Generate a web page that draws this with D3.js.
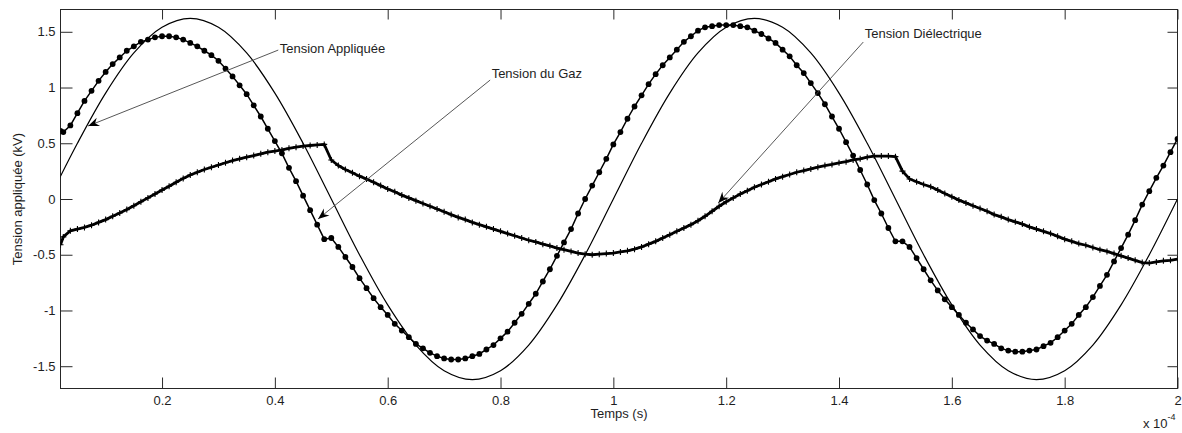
<!DOCTYPE html>
<html>
<head>
<meta charset="utf-8">
<script src="https://cdn.jsdelivr.net/npm/d3@7"></script>
<style>
body { margin: 0; background: #fff; }
svg { display: block; font-family: "Liberation Sans", Arial, sans-serif; }
</style>
</head>
<body>
<svg id="chart" width="1182" height="433"></svg>
<script>
// time in units of 1e-4 s, voltages in kV
const timeStart = 0.02;
const timeStep = 0.0125;
const appliedStep = 0.05;

// thin line, sampled every 0.05 from t = 0
const appliedVoltage = [
    0, 0.50, 0.95, 1.31, 1.54, 1.62, 1.54, 1.31, 0.95, 0.50,
    0, -0.50, -0.95, -1.31, -1.54, -1.62, -1.54, -1.31, -0.95, -0.50,
    0, 0.50, 0.95, 1.31, 1.54, 1.62, 1.54, 1.31, 0.95, 0.50,
    0, -0.50, -0.95, -1.31, -1.54, -1.62, -1.54, -1.31, -0.95, -0.50,
    0
];

// one row per 0.1 of time (8 samples each)
const gasVoltage = [
    0.61, 0.60, 0.66, 0.77, 0.88, 0.97, 1.06, 1.14,
    1.21, 1.27, 1.33, 1.37, 1.41, 1.43, 1.45, 1.46,
    1.46, 1.45, 1.43, 1.40, 1.37, 1.33, 1.29, 1.24,
    1.17, 1.10, 1.02, 0.94, 0.84, 0.74, 0.63, 0.52,
    0.41, 0.28, 0.16, 0.03, -0.10, -0.23, -0.36, -0.35,
    -0.43, -0.52, -0.61, -0.71, -0.80, -0.89, -0.97, -1.04,
    -1.12, -1.18, -1.24, -1.30, -1.34, -1.38, -1.41, -1.43,
    -1.44, -1.44, -1.43, -1.41, -1.39, -1.35, -1.31, -1.25,
    -1.19, -1.11, -1.03, -0.94, -0.85, -0.74, -0.63, -0.51,
    -0.39, -0.27, -0.13, 0.00, 0.12, 0.24, 0.36, 0.49,
    0.60, 0.72, 0.83, 0.93, 1.03, 1.12, 1.20, 1.27,
    1.34, 1.41, 1.46, 1.51, 1.54, 1.55, 1.56, 1.56,
    1.56, 1.55, 1.54, 1.51, 1.48, 1.44, 1.40, 1.34,
    1.28, 1.20, 1.13, 1.04, 0.95, 0.85, 0.74, 0.63,
    0.51, 0.39, 0.26, 0.13, -0.01, -0.13, -0.26, -0.38,
    -0.38, -0.43, -0.53, -0.63, -0.73, -0.82, -0.90, -0.97,
    -1.04, -1.11, -1.17, -1.23, -1.27, -1.30, -1.34, -1.36,
    -1.37, -1.37, -1.36, -1.35, -1.32, -1.29, -1.24, -1.18,
    -1.12, -1.04, -0.97, -0.88, -0.78, -0.68, -0.56, -0.44,
    -0.32, -0.19, -0.05, 0.07, 0.19, 0.30, 0.42, 0.54
];

const dielectricVoltage = [
    -0.41, -0.34, -0.285, -0.27, -0.255, -0.235, -0.21, -0.185,
    -0.155, -0.125, -0.095, -0.06, -0.025, 0.01, 0.045, 0.08,
    0.115, 0.15, 0.185, 0.215, 0.24, 0.265, 0.285, 0.305,
    0.325, 0.345, 0.36, 0.375, 0.39, 0.405, 0.42, 0.43,
    0.44, 0.455, 0.465, 0.475, 0.48, 0.485, 0.49, 0.35,
    0.30, 0.265, 0.235, 0.205, 0.18, 0.15, 0.12, 0.09,
    0.065, 0.035, 0.01, -0.015, -0.04, -0.065, -0.09, -0.115,
    -0.14, -0.165, -0.185, -0.21, -0.23, -0.25, -0.27, -0.29,
    -0.31, -0.33, -0.35, -0.37, -0.385, -0.405, -0.42, -0.44,
    -0.455, -0.47, -0.485, -0.495, -0.50, -0.495, -0.49, -0.485,
    -0.475, -0.465, -0.45, -0.43, -0.405, -0.38, -0.35, -0.32,
    -0.29, -0.26, -0.23, -0.195, -0.155, -0.11, -0.065, -0.025,
    0.01, 0.045, 0.075, 0.105, 0.13, 0.155, 0.18, 0.2,
    0.22, 0.24, 0.255, 0.27, 0.285, 0.30, 0.31, 0.325,
    0.335, 0.35, 0.36, 0.375, 0.385, 0.385, 0.385, 0.38,
    0.25, 0.18, 0.155, 0.13, 0.11, 0.08, 0.05, 0.02,
    -0.01, -0.035, -0.06, -0.085, -0.11, -0.14, -0.16, -0.185,
    -0.205, -0.225, -0.25, -0.27, -0.29, -0.31, -0.335, -0.36,
    -0.38, -0.40, -0.415, -0.435, -0.455, -0.47, -0.49, -0.51,
    -0.53, -0.55, -0.57, -0.575, -0.565, -0.555, -0.55, -0.54
];

const xTicks = [0.2, 0.4, 0.6, 0.8, 1, 1.2, 1.4, 1.6, 1.8, 2];
const xTickLabels = ["0.2", "0.4", "0.6", "0.8", "1", "1.2", "1.4", "1.6", "1.8", "2"];
const yTicks = [-1.5, -1, -0.5, 0, 0.5, 1, 1.5];
const yTickLabels = ["-1.5", "-1", "-0.5", "0", "0.5", "1", "1.5"];

// arrow annotations, in data units (tail = end near the text)
const annotationLabels = ["Tension Appliquée", "Tension du Gaz", "Tension Diélectrique"];
const annotationTail = [[0.406, 1.336], [0.7816, 1.067], [1.443, 1.408]];
const annotationTip = [[0.069, 0.655], [0.4766, -0.179], [1.186, -0.036]];

// sample times
let sampleTime = gasVoltage.map((v, i) => i == 0 ? timeStart : (i + 1) * timeStep);
let appliedTime = appliedVoltage.map((v, i) => i * appliedStep);

let svg = d3.select("#chart");
let plotLeft = 60.5, plotRight = 1177.5, plotTop = 9.5, plotBottom = 388.5;
let textColor = "#1e1e1e";

let xScale = d3.scaleLinear().domain([0.02, 2]).range([plotLeft, plotRight]);
let yScale = d3.scaleLinear().domain([-1.7, 1.7]).range([plotBottom, plotTop]);

let defs = svg.append("defs");
defs.append("clipPath").attr("id", "plotClip")
    .append("rect")
    .attr("x", plotLeft).attr("y", plotTop)
    .attr("width", plotRight - plotLeft).attr("height", plotBottom - plotTop);

defs.append("marker")
    .attr("id", "arrowHead")
    .attr("viewBox", "-12 -6 13 12")
    .attr("refX", 0).attr("refY", 0)
    .attr("markerWidth", 13).attr("markerHeight", 12)
    .attr("markerUnits", "userSpaceOnUse")
    .attr("orient", "auto")
    .append("path")
    .attr("d", "M0,0 L-11,-4.5 L-7.5,0 L-11,4.5 Z")
    .attr("fill", "#000");

// axes: ticks inward on all four sides
function styleAxis(g) {
    g.select(".domain").remove();
    g.attr("font-size", 13).attr("font-family", null).attr("color", "#2a2a2a");
    g.selectAll("text").attr("fill", textColor);
}

svg.append("g")
    .attr("transform", "translate(0," + plotBottom + ")")
    .call(d3.axisBottom(xScale).tickValues(xTicks)
        .tickFormat((d, i) => xTickLabels[i])
        .tickSizeInner(-11).tickSizeOuter(0).tickPadding(7))
    .call(styleAxis);

svg.append("g")
    .attr("transform", "translate(0," + plotTop + ")")
    .call(d3.axisTop(xScale).tickValues(xTicks)
        .tickFormat("").tickSizeInner(-10).tickSizeOuter(0))
    .call(styleAxis);

svg.append("g")
    .attr("transform", "translate(" + plotLeft + ",0)")
    .call(d3.axisLeft(yScale).tickValues(yTicks)
        .tickFormat((d, i) => yTickLabels[i])
        .tickSizeInner(-12).tickSizeOuter(0).tickPadding(5))
    .call(styleAxis);

svg.append("g")
    .attr("transform", "translate(" + plotRight + ",0)")
    .call(d3.axisRight(yScale).tickValues(yTicks)
        .tickFormat("").tickSizeInner(-10).tickSizeOuter(0))
    .call(styleAxis);

svg.append("rect")
    .attr("x", plotLeft).attr("y", plotTop)
    .attr("width", plotRight - plotLeft).attr("height", plotBottom - plotTop)
    .attr("fill", "none").attr("stroke", "#262626").attr("stroke-width", 1);

// axis labels
svg.append("text")
    .attr("x", (plotLeft + plotRight) / 2).attr("y", 418)
    .attr("text-anchor", "middle").attr("font-size", 13).attr("fill", textColor)
    .text("Temps (s)");

svg.append("text")
    .attr("transform", "rotate(-90)")
    .attr("x", -(plotTop + plotBottom) / 2).attr("y", 22)
    .attr("text-anchor", "middle").attr("font-size", 13).attr("fill", textColor)
    .text("Tension appliquée (kV)");

let expo = svg.append("text")
    .attr("x", 1143).attr("y", 428)
    .attr("font-size", 13).attr("fill", textColor);
expo.append("tspan").text("x 10");
expo.append("tspan").attr("font-size", 9).attr("dy", -8).text("-4");

// series
let plot = svg.append("g").attr("clip-path", "url(#plotClip)");

let appliedLine = d3.line()
    .x((d, i) => xScale(appliedTime[i]))
    .y(d => yScale(d))
    .curve(d3.curveCatmullRom);

plot.append("path")
    .datum(appliedVoltage)
    .attr("d", appliedLine)
    .attr("fill", "none")
    .attr("stroke", "#000")
    .attr("stroke-width", 1.2);

let sampleLine = d3.line()
    .x((d, i) => xScale(sampleTime[i]))
    .y(d => yScale(d));

plot.append("path")
    .datum(dielectricVoltage)
    .attr("d", sampleLine)
    .attr("fill", "none")
    .attr("stroke", "#000")
    .attr("stroke-width", 2.8);

plot.selectAll(".plus")
    .data(dielectricVoltage)
    .enter()
    .append("path")
    .attr("class", "plus")
    .attr("transform", (d, i) => "translate(" + xScale(sampleTime[i]) + "," + yScale(d) + ")")
    .attr("d", "M-3,0 H3 M0,-3 V3")
    .attr("stroke", "#000")
    .attr("stroke-width", 1.1);

plot.append("path")
    .datum(gasVoltage)
    .attr("d", sampleLine)
    .attr("fill", "none")
    .attr("stroke", "#000")
    .attr("stroke-width", 1.5);

plot.selectAll(".gasDot")
    .data(gasVoltage)
    .enter()
    .append("circle")
    .attr("class", "gasDot")
    .attr("cx", (d, i) => xScale(sampleTime[i]))
    .attr("cy", d => yScale(d))
    .attr("r", 2.9)
    .attr("fill", "#000");

// annotations
annotationLabels.forEach(function(label, i) {
    let tail = annotationTail[i], tip = annotationTip[i];
    let tx = xScale(tail[0]), ty = yScale(tail[1]);
    svg.append("line")
        .attr("x1", tx).attr("y1", ty)
        .attr("x2", xScale(tip[0])).attr("y2", yScale(tip[1]))
        .attr("stroke", "#444")
        .attr("stroke-width", 0.9)
        .attr("marker-end", "url(#arrowHead)");
    svg.append("text")
        .attr("x", tx + 1.5)
        .attr("y", i == 0 ? ty + 3 : (i == 1 ? ty - 2 : ty - 4))
        .attr("font-size", 13)
        .attr("fill", textColor)
        .text(label);
});
</script>
</body>
</html>
